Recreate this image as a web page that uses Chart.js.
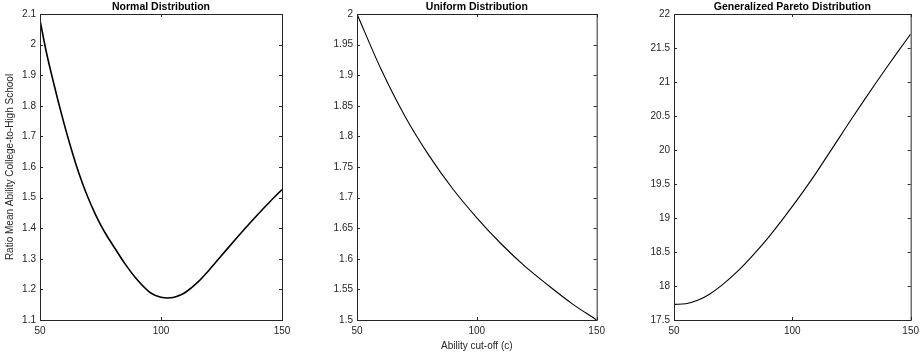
<!DOCTYPE html>
<html>
<head>
<meta charset="utf-8">
<script src="https://cdn.jsdelivr.net/npm/chart.js@4.4.1/dist/chart.umd.min.js"></script>
<style>
  html, body { margin: 0; padding: 0; background: #fff; }
  #wrap { position: relative; width: 924px; height: 354px; }
  canvas { position: absolute; top: 0; }
</style>
</head>
<body>
<div id="wrap">
  <canvas id="c1" style="left:0px"></canvas>
  <canvas id="c2" style="left:300px"></canvas>
  <canvas id="c3" style="left:620px"></canvas>
</div>
<script>
// ability cut-off values (x) and ratios
const normalX = [50, 52.5, 55, 57.5, 60, 62.5, 65, 67.5, 70, 72.5, 75, 77.5, 80, 85, 90, 95, 97.5, 100, 102.5, 105, 107.5, 110, 115, 120, 125, 130, 135, 140, 145, 150];
const normalRatio = [2.08, 1.98, 1.895, 1.815, 1.74, 1.67, 1.605, 1.548, 1.497, 1.452, 1.412, 1.377, 1.346, 1.285, 1.233, 1.193, 1.181, 1.1745, 1.172, 1.1735, 1.18, 1.19, 1.222, 1.2645, 1.3105, 1.3565, 1.4015, 1.445, 1.4865, 1.5265];
const uniformX = [50, 60, 70, 80, 90, 100, 110, 120, 130, 140, 150];
const uniformRatio = [2.0, 1.91, 1.833, 1.769, 1.714, 1.667, 1.625, 1.588, 1.556, 1.526, 1.5];
const paretoX = [50, 55, 60, 65, 70, 75, 80, 85, 90, 95, 100, 105, 110, 115, 120, 125, 130, 135, 140, 145, 150];
const paretoRatio = [17.73, 17.74, 17.79, 17.88, 18.005, 18.155, 18.325, 18.515, 18.72, 18.94, 19.17, 19.41, 19.66, 19.925, 20.19, 20.455, 20.715, 20.97, 21.22, 21.465, 21.705];

// tick labels
const xTicks = [50, 100, 150];
const normalTicks = [1.1, 1.2, 1.3, 1.4, 1.5, 1.6, 1.7, 1.8, 1.9, 2, 2.1];
const uniformTicks = [1.5, 1.55, 1.6, 1.65, 1.7, 1.75, 1.8, 1.85, 1.9, 1.95, 2];
const paretoTicks = [17.5, 18, 18.5, 19, 19.5, 20, 20.5, 21, 21.5, 22];

const titles = ["Normal Distribution", "Uniform Distribution", "Generalized Pareto Distribution"];
const yTitle = "Ratio Mean Ability College-to-High School";
const xTitle = "Ability cut-off (c)";

const FONT = "'Liberation Sans', Arial, Helvetica, sans-serif";
const AXIS = "#262626";

// box + inward ticks, matlab style
const boxPlugin = {
    id: "box",
    afterDraw(chart) {
        const { ctx, chartArea: a, scales } = chart;
        ctx.save();
        ctx.strokeStyle = AXIS;
        ctx.lineWidth = 1;
        ctx.strokeRect(a.left + 0.5, a.top + 0.5, a.right - a.left, a.bottom - a.top);
        const len = 3;
        ctx.beginPath();
        scales.x.ticks.forEach(t => {
            const px = Math.round(scales.x.getPixelForValue(t.value)) + 0.5;
            ctx.moveTo(px, a.bottom); ctx.lineTo(px, a.bottom - len);
            ctx.moveTo(px, a.top); ctx.lineTo(px, a.top + len);
        });
        scales.y.ticks.forEach(t => {
            const py = Math.round(scales.y.getPixelForValue(t.value)) + 0.5;
            ctx.moveTo(a.left, py); ctx.lineTo(a.left + len, py);
            ctx.moveTo(a.right, py); ctx.lineTo(a.right - len, py);
        });
        ctx.stroke();
        ctx.restore();
    }
};

function makePanel(id, width, yWidth, padRight, title, xs, ys, yTicks, lineW, showY, showX) {
    const canvas = document.getElementById(id);
    canvas.width = width;
    canvas.height = 354;
    canvas.style.width = width + "px";
    canvas.style.height = "354px";

    return new Chart(canvas, {
        type: "line",
        data: {
            datasets: [{
                data: xs.map((x, i) => ({ x: x, y: ys[i] })),
                borderColor: "#000",
                borderWidth: lineW,
                pointRadius: 0,
                cubicInterpolationMode: "monotone",
                fill: false
            }]
        },
        plugins: [boxPlugin],
        options: {
            responsive: false,
            animation: false,
            layout: { padding: { right: padRight, left: 0, top: 0, bottom: 0 } },
            plugins: {
                legend: { display: false },
                tooltip: { enabled: false },
                title: {
                    display: true,
                    text: title,
                    fullSize: false,
                    color: "#000",
                    font: { family: FONT, size: 10.5, weight: "bold" },
                    padding: { top: 1, bottom: 0.4 }
                }
            },
            scales: {
                x: {
                    type: "linear",
                    min: 50,
                    max: 150,
                    afterBuildTicks: s => { s.ticks = xTicks.map(v => ({ value: v })); },
                    afterFit: s => { s.height = 34; },
                    grid: { display: false, drawTicks: false },
                    border: { display: false },
                    ticks: {
                        color: AXIS,
                        padding: 5,
                        maxRotation: 0,
                        font: { family: FONT, size: 10 },
                        callback: v => String(v)
                    },
                    title: {
                        display: showX,
                        text: xTitle,
                        color: AXIS,
                        font: { family: FONT, size: 10 },
                        padding: { top: 2, bottom: 2 }
                    }
                },
                y: {
                    type: "linear",
                    min: yTicks[0],
                    max: yTicks[yTicks.length - 1],
                    afterBuildTicks: s => { s.ticks = yTicks.map(v => ({ value: v })); },
                    afterFit: s => { s.width = yWidth; },
                    grid: { display: false, drawTicks: false },
                    border: { display: false },
                    ticks: {
                        color: AXIS,
                        padding: 4,
                        font: { family: FONT, size: 10 },
                        callback: v => String(+v.toFixed(2))
                    },
                    title: {
                        display: showY,
                        text: yTitle,
                        color: AXIS,
                        font: { family: FONT, size: 10 },
                        padding: { top: 4, bottom: 0 }
                    }
                }
            }
        }
    });
}

makePanel("c1", 300, 40, 18, titles[0], normalX, normalRatio, normalTicks, 1.6, true, false);
makePanel("c2", 310, 57, 12, titles[1], uniformX, uniformRatio, uniformTicks, 1.1, false, true);
makePanel("c3", 304, 54, 9, titles[2], paretoX, paretoRatio, paretoTicks, 1.1, false, false);
</script>
</body>
</html>
